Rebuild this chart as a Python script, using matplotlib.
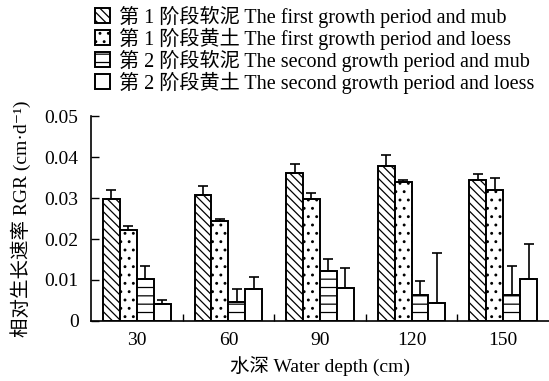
import matplotlib
matplotlib.use("Agg")
import matplotlib.pyplot as plt
import numpy as np
from matplotlib.patches import Patch

# Profondeur d'eau (cm) et taux de croissance relatif RGR (cm·d-1)
profondeurs = ["30", "60", "90", "120", "150"]
etiquettes = [
    "第 1 阶段软泥 The first growth period and mub",
    "第 1 阶段黄土 The first growth period and loess",
    "第 2 阶段软泥 The second growth period and mub",
    "第 2 阶段黄土 The second growth period and loess",
]
rgr_1_mub = [0.0297, 0.0308, 0.0362, 0.0377, 0.0345]
rgr_1_loess = [0.0221, 0.0245, 0.0297, 0.0339, 0.0319]
rgr_2_mub = [0.0103, 0.0046, 0.0123, 0.0063, 0.0063]
rgr_2_loess = [0.0041, 0.0077, 0.0080, 0.0045, 0.0103]
err_1_mub = [0.0023, 0.0021, 0.0022, 0.0027, 0.0014]
err_1_loess = [0.0011, 0.0003, 0.0016, 0.0005, 0.0031]
err_2_mub = [0.0031, 0.0031, 0.0028, 0.0034, 0.0071]
err_2_loess = [0.0009, 0.0030, 0.0050, 0.0121, 0.0085]
yticks = [0, 0.01, 0.02, 0.03, 0.04, 0.05]
ytick_labels = ["0", "0.01", "0.02", "0.03", "0.04", "0.05"]

series = [rgr_1_mub, rgr_1_loess, rgr_2_mub, rgr_2_loess]
erreurs = [err_1_mub, err_1_loess, err_2_mub, err_2_loess]
hachures = ["\\\\\\\\", "..", "--", ""]

plt.rcParams["font.family"] = ["Liberation Serif", "Noto Sans CJK SC", "DejaVu Serif"]
plt.rcParams["hatch.linewidth"] = 0.9
plt.rcParams["hatch.color"] = "black"
taille = 14

fig = plt.figure(figsize=(5.49, 3.81), dpi=100)
ax = fig.add_axes([0.1658, 0.1575, 0.834, 0.538])

x = np.arange(len(profondeurs))
largeur = 0.185
for k in range(4):
    pos = x + (k - 1.5) * largeur
    ax.bar(pos, series[k], largeur, color="white", edgecolor="black",
           linewidth=1.4, hatch=hachures[k], zorder=2)
    ax.errorbar(pos, series[k], yerr=[np.zeros(len(x)), erreurs[k]],
                fmt="none", ecolor="black", elinewidth=1.2, capsize=3.5,
                capthick=1.2, zorder=3)

ax.set_xlim(-0.5, 4.5)
ax.set_ylim(0, 0.05)
ax.set_xticks(x)
ax.set_xticklabels(profondeurs, fontsize=taille)
ax.set_xticks(np.arange(0.5, 4.5, 1), minor=True)
ax.set_yticks(yticks)
ax.set_yticklabels(ytick_labels, fontsize=taille)
ax.tick_params(axis="x", which="major", length=0, pad=8)
ax.tick_params(axis="x", which="minor", direction="in", length=5, width=1)
ax.tick_params(axis="y", direction="in", length=5.5, width=1, pad=9)
for s in ["top", "right"]:
    ax.spines[s].set_visible(False)
for s in ["left", "bottom"]:
    ax.spines[s].set_linewidth(1.2)

ax.set_xlabel("水深 Water depth (cm)", fontsize=taille, labelpad=5)
ax.set_ylabel("相对生长速率 RGR (cm·d⁻¹)", fontsize=taille, labelpad=10)

poignees = [Patch(facecolor="white", edgecolor="black", hatch=h, linewidth=1.4)
            for h in hachures]
fig.legend(poignees, etiquettes, loc="upper left",
           bbox_to_anchor=(0.155, 1.012), frameon=False, fontsize=14.5,
           handlelength=0.75, handleheight=0.75, handletextpad=0.45,
           labelspacing=0.0, borderpad=0.0)

fig.savefig("out.png", dpi=100)
